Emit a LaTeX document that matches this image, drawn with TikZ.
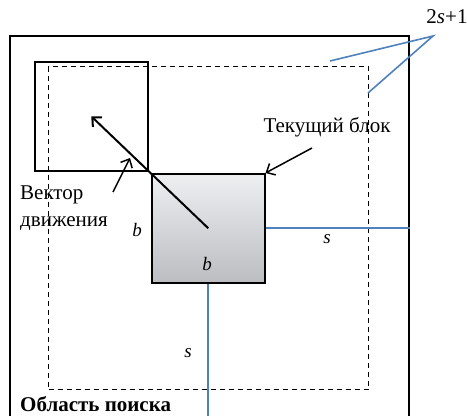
\documentclass[tikz,border=0pt]{standalone}
\usepackage{fontspec}
\setmainfont{Liberation Serif}
\usetikzlibrary{arrows.meta,positioning,calc}
\definecolor{lineblue}{RGB}{79,129,189}
\definecolor{blocktop}{RGB}{238,239,241}
\definecolor{blockbottom}{RGB}{188,189,193}

\begin{document}
\begin{tikzpicture}[x=1pt, y=-1pt, every node/.style={font=\fontsize{21}{27}\selectfont},
    box/.style={draw, line width=1.5pt, anchor=north west, inner sep=0pt},
    pointer/.style={-{Straight Barb[length=7pt,width=13pt]}, line width=1.5pt},
    bluebar/.style={draw=lineblue, line width=1.6pt},
    dimlabel/.style={font=\fontsize{19}{22}\selectfont\itshape, inner sep=1pt}]
    \useasboundingbox (0,0) rectangle (467,416);
    \node[box, minimum width=399pt, minimum height=400pt] (area) at (9,35) {};
    \node[box, dashed, dash pattern=on 5pt off 4pt, line width=1.3pt, minimum width=320pt, minimum height=323pt] (window) at (48,66) {};
    \node[box, minimum width=113pt, minimum height=109pt] (prev) at (34,61) {};
    \node[box, top color=blocktop, bottom color=blockbottom, minimum width=113pt, minimum height=109pt] (current) at (151,173) {};
    \draw[pointer, line width=2pt] (current.center) -- (prev.center);
    \node[anchor=west, align=left, inner sep=0pt] (vectorlabel) at (20,208) {Вектор\\движения};
    \coordinate (vtail) at (113,192);
    \coordinate (vtip) at (130,158);
    \draw[pointer] (vtail) -- (vtip);
    \node (blocklabel) at (327,127) {Текущий блок};
    \coordinate (btail) at (312,148);
    \draw[pointer] (btail) -- (current.north east);
    \node[dimlabel] (bleft) at (137,230) {b};
    \node[dimlabel] (bin) at (207,264) {b};
    \draw[bluebar] (current.east) -- (current.east -| area.east);
    \node[dimlabel] (sright) at (327,239) {s};
    \draw[bluebar] (current.south) -- (current.south |- area.south);
    \node[dimlabel] (sdown) at (188,353) {s};
    \node (sizelabel) at (447,17) {2\textit{s}+1};
    \coordinate (sizetip) at (433,36);
    \coordinate (sizetop) at (330,61);
    \coordinate (sizeright) at (368,93);
    \draw[bluebar] (sizetop) -- (sizetip) -- (sizeright);
    \node[anchor=west, inner sep=0pt, font=\fontsize{21}{27}\selectfont\bfseries] (arealabel) at (20,404) {Область поиска};
\end{tikzpicture}
\end{document}
